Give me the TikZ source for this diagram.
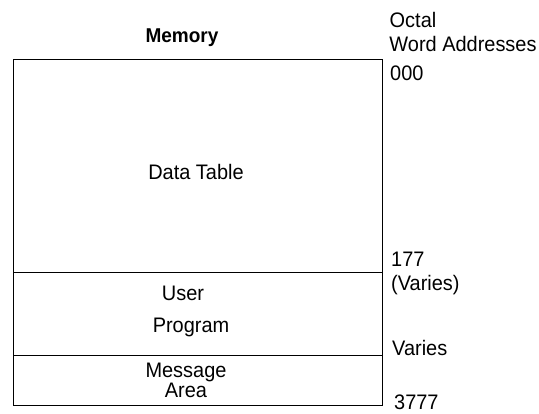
\documentclass[tikz,border=0pt]{standalone}
\usepackage{fontspec}
\setmainfont{Liberation Sans}[FakeStretch=0.95]
\usepackage{tikz}
\tikzstyle{block}=[draw,rectangle,line width=0.8pt,minimum width=369pt,inner sep=0pt]
\tikzstyle{lbl}=[inner sep=0pt,anchor=base,font=\fontsize{21}{22}\selectfont]
\tikzstyle{addr}=[inner sep=0pt,anchor=base west,font=\fontsize{21}{22}\selectfont]

\begin{document}
\begin{tikzpicture}[x=1pt,y=-1pt]
    \useasboundingbox (0,0) rectangle (539,413);
    % memory blocks
    \node[block,minimum height=213pt] (datatable) at (197.5,165.5) {};
    \node[block,minimum height=83pt]  (userprog)  at (197.5,313.5) {};
    \node[block,minimum height=50pt]  (msgarea)   at (197.5,380)   {};
    % headings
    \node[lbl,font=\fontsize{20}{22}\selectfont\bfseries] (memory) at (182,42) {Memory};
    \node[lbl] (octal) at (413,27) {Octal};
    \node[lbl] (wordaddr) at (463,51) {Word Addresses};
    % block texts
    \node[lbl] (datatxt) at (196,179) {Data Table};
    \node[lbl] (usertxt) at (183,300) {User};
    \node[lbl] (progtxt) at (191,332) {Program};
    \node[lbl,anchor=center,align=center,font=\fontsize{21}{18}\selectfont] (msgtxt) at (186,380) {Message\\Area};
    % addresses
    \node[addr] (a000)   at (390,80)  {000};
    \node[addr] (a177)   at (391,266) {177};
    \node[addr] (avar1)  at (391,290) {(Varies)};
    \node[addr] (avar2)  at (392,355) {Varies};
    \node[addr] (a3777)  at (394,409) {3777};
\end{tikzpicture}
\end{document}
